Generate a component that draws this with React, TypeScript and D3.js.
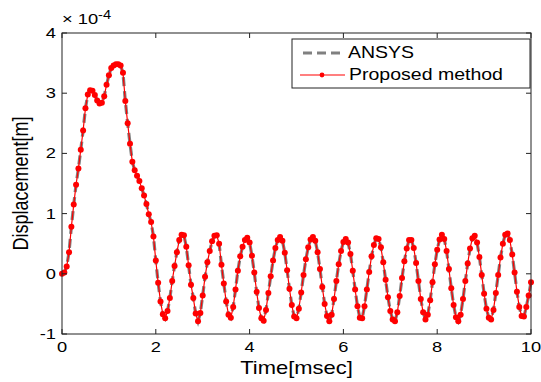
import React from "react";
import * as d3 from "d3";

// Sampling step of the recorded time histories (msec)
const TIME_STEP = 0.05;

// Displacement, units of 1e-4 m, t = 0 … 10 msec
const proposedDisp: number[] = [
  0, 0.02, 0.12, 0.36, 0.78, 1.15, 1.48, 1.75, 2.06, 2.38,
  2.75, 2.98, 3.05, 3.04, 2.97, 2.88, 2.83, 2.84, 2.95, 3.14,
  3.30, 3.42, 3.46, 3.48, 3.48, 3.46, 3.34, 2.87, 2.50, 2.16,
  1.86, 1.72, 1.63, 1.54, 1.42, 1.30, 1.16, 0.99, 0.86, 0.62,
  0.22, -0.15, -0.46, -0.67, -0.74, -0.62, -0.40, -0.12, 0.13, 0.36,
  0.56, 0.65, 0.64, 0.45, 0.14, -0.18, -0.40, -0.66, -0.79, -0.65,
  -0.36, -0.05, 0.19, 0.38, 0.54, 0.63, 0.64, 0.50, 0.15, -0.16,
  -0.46, -0.68, -0.73, -0.55, -0.26, 0.05, 0.29, 0.45, 0.56, 0.60,
  0.52, 0.30, 0.02, -0.30, -0.57, -0.74, -0.78, -0.60, -0.32, -0.04,
  0.22, 0.43, 0.56, 0.61, 0.55, 0.35, 0.06, -0.25, -0.52, -0.71,
  -0.74, -0.58, -0.31, -0.02, 0.24, 0.44, 0.57, 0.61, 0.55, 0.36,
  0.08, -0.22, -0.50, -0.70, -0.79, -0.68, -0.42, -0.12, 0.16, 0.38,
  0.53, 0.58, 0.52, 0.33, 0.05, -0.26, -0.54, -0.73, -0.74, -0.54,
  -0.26, 0.03, 0.29, 0.48, 0.59, 0.58, 0.44, 0.19, -0.10, -0.39,
  -0.62, -0.76, -0.79, -0.64, -0.37, -0.07, 0.21, 0.42, 0.56, 0.56,
  0.43, 0.18, -0.12, -0.42, -0.64, -0.76, -0.68, -0.44, -0.14, 0.16,
  0.40, 0.57, 0.65, 0.58, 0.38, 0.08, -0.24, -0.52, -0.72, -0.79,
  -0.68, -0.42, -0.12, 0.17, 0.42, 0.59, 0.63, 0.52, 0.28, -0.02,
  -0.33, -0.58, -0.73, -0.76, -0.60, -0.32, -0.02, 0.27, 0.50, 0.65,
  0.67, 0.56, 0.32, 0.02, -0.30, -0.55, -0.70, -0.71, -0.55, -0.36,
  -0.14,
];

// ANSYS solution lies on top of the proposed method
const ansysDisp: number[] = proposedDisp;

const xTicks = [0, 2, 4, 6, 8, 10];
const yTicks = [-1, 0, 1, 2, 3, 4];
const seriesNames = ["ANSYS", "Proposed method"];

const W = 541;
const H = 382;
const M = { left: 62, right: 531, top: 33, bottom: 334 };
const FONT = "'Liberation Sans', Arial, sans-serif";
const SX = 1.22; // horizontal stretch of the original picture

export default function App() {
  const x = d3.scaleLinear().domain([0, 10]).range([M.left, M.right]);
  const y = d3.scaleLinear().domain([-1, 4]).range([M.bottom, M.top]);

  const proposed = proposedDisp.map((v, i) => ({ t: i * TIME_STEP, v }));
  const ansys = ansysDisp.map((v, i) => ({ t: i * TIME_STEP, v }));

  const line = d3
    .line<{ t: number; v: number }>()
    .x((d) => x(d.t))
    .y((d) => y(d.v));

  const tickLen = 5;

  const stretchText = (
    tx: number,
    ty: number,
    content: React.ReactNode,
    size: number,
    anchor: "start" | "middle" | "end"
  ) => (
    <g transform={`translate(${tx},${ty}) scale(${SX},1)`}>
      <text
        x={0}
        y={0}
        fontSize={size}
        fontFamily={FONT}
        textAnchor={anchor}
        dominantBaseline="central"
        fill="#000"
      >
        {content}
      </text>
    </g>
  );

  return (
    <svg
      width={W}
      height={H}
      style={{ position: "absolute", left: 0, top: 0, background: "#fff" }}
    >
      <rect x={0} y={0} width={W} height={H} fill="#fff" />

      {/* ANSYS: gray dashed */}
      <path
        d={line(ansys) || ""}
        fill="none"
        stroke="#808080"
        strokeWidth={3.2}
        strokeDasharray="9,5"
      />
      {/* Proposed: red line + markers */}
      <path d={line(proposed) || ""} fill="none" stroke="#ff0000" strokeWidth={1.2} />
      {proposed.map((d, i) => (
        <circle key={i} cx={x(d.t)} cy={y(d.v)} r={3} fill="#ff0000" />
      ))}

      {/* axes box */}
      <rect
        x={M.left}
        y={M.top}
        width={M.right - M.left}
        height={M.bottom - M.top}
        fill="none"
        stroke="#222"
        strokeWidth={1}
      />
      {xTicks.map((t) => (
        <g key={`xt${t}`}>
          <line x1={x(t)} x2={x(t)} y1={M.bottom} y2={M.bottom - tickLen} stroke="#222" />
          <line x1={x(t)} x2={x(t)} y1={M.top} y2={M.top + tickLen} stroke="#222" />
          {stretchText(x(t), 347, String(t), 15, "middle")}
        </g>
      ))}
      {yTicks.map((t) => (
        <g key={`yt${t}`}>
          <line x1={M.left} x2={M.left + tickLen} y1={y(t)} y2={y(t)} stroke="#222" />
          <line x1={M.right} x2={M.right - tickLen} y1={y(t)} y2={y(t)} stroke="#222" />
          {stretchText(56, y(t), String(t), 15, "end")}
        </g>
      ))}

      {/* exponent */}
      <g transform={`translate(${M.left},19) scale(${SX},1)`}>
        <text x={0} y={0} fontSize={15} fontFamily={FONT} dominantBaseline="central">
          × 10
          <tspan fontSize={12} dy={-4}>
            -4
          </tspan>
        </text>
      </g>

      {/* axis labels */}
      {stretchText((M.left + M.right) / 2, 368, "Time[msec]", 18, "middle")}
      <g transform={`translate(20,${(M.top + M.bottom) / 2}) rotate(-90) scale(1,${SX})`}>
        <text
          x={0}
          y={0}
          fontSize={18}
          fontFamily={FONT}
          textAnchor="middle"
          dominantBaseline="central"
        >
          Displacement[m]
        </text>
      </g>

      {/* legend */}
      <rect x={292} y={39} width={238} height={49} fill="#fff" stroke="#222" strokeWidth={1} />
      <line x1={303} x2={345} y1={53} y2={53} stroke="#808080" strokeWidth={3.2} strokeDasharray="9,5" />
      {stretchText(348, 53, seriesNames[0], 16, "start")}
      <line x1={300} x2={345} y1={75} y2={75} stroke="#ff0000" strokeWidth={1.2} />
      <circle cx={322} cy={75} r={2.4} fill="#ff0000" />
      {stretchText(349, 75, seriesNames[1], 16, "start")}
    </svg>
  );
}
